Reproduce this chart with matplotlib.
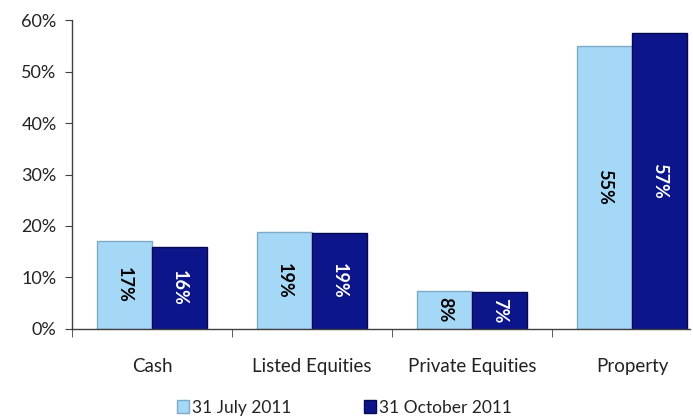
import matplotlib
matplotlib.use("Agg")
import matplotlib.pyplot as plt
import numpy as np
from matplotlib.ticker import PercentFormatter, FixedLocator

categories = ["Cash", "Listed Equities", "Private Equities", "Property"]
july = [17.1, 18.8, 7.4, 55.0]
october = [15.9, 18.6, 7.2, 57.5]
july_labels = ["17%", "19%", "8%", "55%"]
october_labels = ["16%", "19%", "7%", "57%"]
series_names = ["31 July 2011", "31 October 2011"]

plt.rcParams['font.family'] = ['Lato', 'DejaVu Sans']

fig = plt.figure(figsize=(6.93, 4.18), dpi=100)
ax = fig.add_axes([72/693, 0.213, (690-72)/693, 0.739])

x = np.arange(len(categories))
w = 0.344
light = "#A5D7F7"
dark = "#0C168A"
b1 = ax.bar(x - w/2, july, w, color=light, edgecolor="#7FA9C6", linewidth=1.0, label=series_names[0])
b2 = ax.bar(x + w/2, october, w, color=dark, edgecolor="#050A50", linewidth=1.0, label=series_names[1])

for xi, v, lab in zip(x - w/2, july, july_labels):
    ax.text(xi, v/2, lab, rotation=270, ha="center", va="center", fontsize=13, fontweight="bold", color="black")
for xi, v, lab in zip(x + w/2, october, october_labels):
    ax.text(xi, v/2, lab, rotation=270, ha="center", va="center", fontsize=13, fontweight="bold", color="white")

ax.set_xlim(-0.5, -0.5 + 618/160)
ax.set_ylim(0, 60)
ax.yaxis.set_major_locator(FixedLocator([0, 10, 20, 30, 40, 50, 60]))
ax.yaxis.set_major_formatter(PercentFormatter(decimals=0))
ax.tick_params(axis="y", labelsize=13, length=5, colors="#404040", labelcolor="#222222", pad=6)

ax.set_xticks(x)
ax.set_xticklabels(categories)
ax.tick_params(axis="x", which="major", length=0, labelsize=13.5, pad=21, labelcolor="#222222")
ax.set_xticks(np.arange(-0.5, len(categories) - 0.5), minor=True)
ax.tick_params(axis="x", which="minor", length=6, color="#404040", direction="out")

for s in ["top", "right"]:
    ax.spines[s].set_visible(False)
for s in ["left", "bottom"]:
    ax.spines[s].set_color("#404040")
    ax.spines[s].set_linewidth(1.0)

leg = fig.legend(handles=[b1, b2], labels=series_names, loc="center", ncol=2, frameon=False,
                 bbox_to_anchor=(0.497, 0.025), fontsize=12.5, handlelength=0.7, handleheight=0.7,
                 handletextpad=0.15, columnspacing=4.2, labelcolor="#222222")

fig.savefig("out.png", dpi=100)
